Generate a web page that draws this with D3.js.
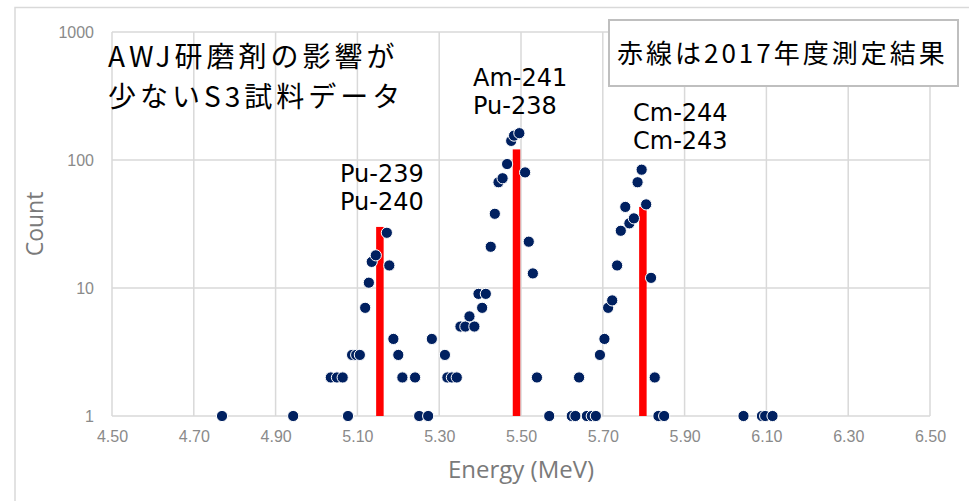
<!DOCTYPE html>
<html>
<head>
<meta charset="utf-8">
<script src="https://cdn.jsdelivr.net/npm/d3@7"></script>
<style>
  body { margin: 0; background: #fff; }
</style>
</head>
<body>
<div id="chart"></div>
<script>
// Settings
const SIZE = [969, 501]
const MARGIN = {top: 32, right: 39, bottom: 85, left: 112}

// Measured spectrum (S3 sample)
const energies = [
  4.769, 4.943, 5.077, 5.035, 5.050, 5.064, 5.087, 5.097, 5.106, 5.119,
  5.128, 5.135, 5.145, 5.172, 5.178, 5.188, 5.200, 5.210, 5.241, 5.251,
  5.273, 5.282, 5.314, 5.320, 5.331, 5.343, 5.352, 5.364, 5.386, 5.374,
  5.405, 5.396, 5.414, 5.426, 5.436, 5.445, 5.455, 5.466, 5.476, 5.483,
  5.496, 5.510, 5.519, 5.529, 5.539, 5.569, 5.624, 5.633, 5.642, 5.661,
  5.673, 5.683, 5.693, 5.704, 5.713, 5.723, 5.735, 5.744, 5.755, 5.765,
  5.776, 5.785, 5.795, 5.806, 5.818, 5.827, 5.836, 5.850, 6.044, 6.089,
  6.097, 6.115
]
const counts = [
  1, 1, 1, 2, 2, 2, 3, 3, 3, 7,
  11, 16, 18, 27, 15, 4, 3, 2, 2, 1,
  1, 4, 3, 2, 2, 2, 5, 5, 5, 6,
  7, 9, 9, 21, 38, 67, 72, 93, 141, 155,
  162, 80, 23, 13, 2, 1, 1, 1, 2, 1,
  1, 1, 3, 4, 7, 8, 15, 28, 43, 32,
  35, 67, 84, 45, 12, 2, 1, 1, 1, 1,
  1, 1
]

// 2017 measurement (red lines)
const refEnergies = [5.155, 5.489, 5.798]
const refCounts = [30, 121, 43]

const xTicks = [4.5, 4.7, 4.9, 5.1, 5.3, 5.5, 5.7, 5.9, 6.1, 6.3, 6.5]
const yTicks = [1, 10, 100, 1000]

const titleLines = ["AWJ研磨剤の影響が", "少ないS3試料データ"]
const noteText = "赤線は2017年度測定結果"
const peakLabels = [["Pu-239", "Pu-240"], ["Am-241", "Pu-238"], ["Cm-244", "Cm-243"]]

const GRID = "#d9d9d9"
const DOT = "#002060"

const svg = d3.select("#chart").append("svg")
  .attr("width", SIZE[0])
  .attr("height", SIZE[1])
  .style("font-family", "'Liberation Sans', sans-serif")

// chart frame
svg.append("rect")
  .attr("x", 15).attr("y", 7.5)
  .attr("width", 1000).attr("height", 600)
  .attr("fill", "#fff")
  .attr("stroke", GRID)
  .attr("stroke-width", 1.5)

const x = d3.scaleLinear()
  .domain([4.5, 6.5])
  .range([MARGIN.left, SIZE[0] - MARGIN.right])

const y = d3.scaleLog()
  .domain([1, 1000])
  .range([SIZE[1] - MARGIN.bottom, MARGIN.top])

// grid
svg.append("g")
  .attr("stroke", GRID)
  .attr("stroke-width", 1.5)
  .call(g => g.selectAll(".vx").data(xTicks).join("line")
    .attr("x1", d => x(d)).attr("x2", d => x(d))
    .attr("y1", y(1000)).attr("y2", y(1)))
  .call(g => g.selectAll(".hy").data(yTicks).join("line")
    .attr("x1", x(4.5)).attr("x2", x(6.5))
    .attr("y1", d => y(d)).attr("y2", d => y(d)))

// axes (labels only, Excel style)
const xAxis = g => g
  .attr("transform", `translate(0,${y(1) + 12})`)
  .call(d3.axisBottom(x).tickValues(xTicks).tickSize(0).tickFormat(d3.format(".2f")))
  .call(g => g.select(".domain").remove())
  .call(g => g.selectAll("text")
    .attr("fill", "#8a8a8a")
    .attr("font-size", 16)
    .attr("font-family", "'Liberation Sans', sans-serif"))

const yAxis = g => g
  .attr("transform", `translate(${x(4.5) - 15},0)`)
  .call(d3.axisLeft(y).tickValues(yTicks).tickSize(0).tickFormat(d3.format("d")))
  .call(g => g.select(".domain").remove())
  .call(g => g.selectAll("text")
    .attr("fill", "#8a8a8a")
    .attr("font-size", 16)
    .attr("font-family", "'Liberation Sans', sans-serif"))

svg.append("g").call(xAxis)
svg.append("g").call(yAxis)

// axis titles
svg.append("text")
  .attr("x", (x(4.5) + x(6.5)) / 2)
  .attr("y", 478)
  .attr("text-anchor", "middle")
  .attr("fill", "#7a7a7a")
  .attr("font-family", "'Open Sans', sans-serif")
  .attr("font-size", 24)
  .text("Energy (MeV)")

svg.append("text")
  .attr("transform", `translate(43,${(y(1) + y(1000)) / 2}) rotate(-90)`)
  .attr("text-anchor", "middle")
  .attr("fill", "#7a7a7a")
  .attr("font-family", "'Open Sans', sans-serif")
  .attr("font-size", 23)
  .text("Count")

// red reference lines
svg.append("g")
  .selectAll("rect")
  .data(refEnergies.map((e, i) => ({e, c: refCounts[i]})))
  .join("rect")
    .attr("x", d => x(d.e) - 3.75)
    .attr("width", 7.5)
    .attr("y", d => y(d.c))
    .attr("height", d => y(1) - y(d.c))
    .attr("fill", "#ff0000")

// measured points
svg.append("g")
  .selectAll("circle")
  .data(energies.map((e, i) => ({e, c: counts[i]})))
  .join("circle")
    .attr("cx", d => x(d.e))
    .attr("cy", d => y(d.c))
    .attr("r", 5.6)
    .attr("fill", DOT)
    .attr("stroke", "#fff")
    .attr("stroke-width", 1)

// title text
svg.append("text")
  .attr("font-family", "'Noto Sans CJK JP', sans-serif")
  .attr("font-size", 28)
  .attr("letter-spacing", 4)
  .attr("fill", "#000")
  .selectAll("tspan")
  .data(titleLines)
  .join("tspan")
    .attr("x", 108)
    .attr("y", (d, i) => 67 + i * 40)
    .text(d => d)

// note box
svg.append("rect")
  .attr("x", 609).attr("y", 20)
  .attr("width", 349).attr("height", 66)
  .attr("fill", "#fff")
  .attr("stroke", "#bfbfbf")
  .attr("stroke-width", 2)

svg.append("text")
  .attr("x", 617)
  .attr("y", 63)
  .attr("font-family", "'Noto Sans CJK JP', sans-serif")
  .attr("font-size", 26)
  .attr("letter-spacing", 3)
  .attr("fill", "#000")
  .text(noteText)

// peak labels
const labelPos = [[340, 182], [473, 86], [633, 121]]
peakLabels.forEach((lines, i) => {
  svg.append("text")
    .attr("font-family", "'DejaVu Sans', sans-serif")
    .attr("font-size", 24)
    .attr("fill", "#000")
    .selectAll("tspan")
    .data(lines)
    .join("tspan")
      .attr("x", labelPos[i][0])
      .attr("y", (d, j) => labelPos[i][1] + j * 28)
      .text(d => d)
})
</script>
</body>
</html>
